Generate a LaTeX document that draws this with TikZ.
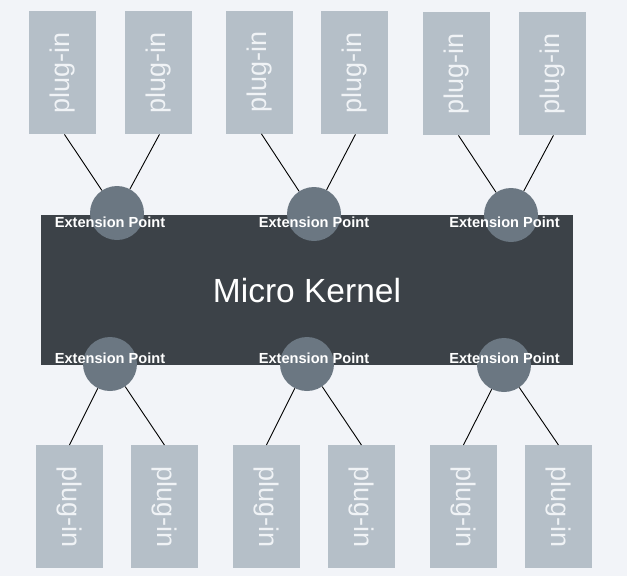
\documentclass[tikz,border=0pt]{standalone}
\usepackage{fontspec}
\setmainfont{Liberation Sans}
\definecolor{bgc}{HTML}{F2F4F8}
\definecolor{kernelc}{HTML}{3C4248}
\definecolor{epc}{HTML}{6B7782}
\definecolor{plugc}{HTML}{B5BFC8}
\definecolor{plugtxt}{HTML}{F0F3F6}
\newcommand{\plugup}{\rotatebox{90}{plug-in}}
\newcommand{\plugdown}{\rotatebox{-90}{plug-in}}
\begin{document}
\begin{tikzpicture}[x=1pt,y=-1pt,
  plugbox/.style={fill=plugc,draw=none,minimum width=66.5pt,minimum height=123pt,inner sep=0pt,
    text=plugtxt,font=\fontsize{27}{29}\selectfont,anchor=north west},
  epoint/.style={circle,fill=epc,draw=none,minimum size=54pt,inner sep=0pt},
  eplabel/.style={text=white,font=\bfseries\fontsize{14.6}{16}\selectfont,inner sep=0pt},
  link/.style={draw=black,line width=0.9pt}]
\fill[bgc] (0,0) rectangle (627,576);
\useasboundingbox (0,0) rectangle (627,576);
% kernel
\node[fill=kernelc,minimum width=532pt,minimum height=150pt,inner sep=0pt,anchor=north west] (kernel) at (41,215) {};
\node[text=white,font=\fontsize{33.5}{36}\selectfont,inner sep=0pt] (kt) at (307,291) {Micro Kernel};
% top plug-ins
\node[plugbox] (t1) at (29,11) {\plugup};
\node[plugbox] (t2) at (125,11) {\plugup};
\node[plugbox] (t3) at (226,10.5) {\plugup};
\node[plugbox] (t4) at (321,11) {\plugup};
\node[plugbox] (t5) at (423,12) {\plugup};
\node[plugbox] (t6) at (519,12) {\plugup};
% bottom plug-ins
\node[plugbox] (b1) at (36,445) {\plugdown};
\node[plugbox] (b2) at (131,445) {\plugdown};
\node[plugbox] (b3) at (233,445) {\plugdown};
\node[plugbox] (b4) at (328,445) {\plugdown};
\node[plugbox] (b5) at (430,445) {\plugdown};
\node[plugbox] (b6) at (525,445) {\plugdown};
% extension points
\node[epoint] (e1) at (117,213) {};
\node[epoint] (e2) at (314,214) {};
\node[epoint] (e3) at (511,215) {};
\node[epoint] (e4) at (110,364) {};
\node[epoint] (e5) at (307,364) {};
\node[epoint] (e6) at (504,365) {};
% labels
\node[eplabel] (l1) at (110,222) {Extension Point};
\node[eplabel] (l2) at (314,222) {Extension Point};
\node[eplabel] (l3) at (504.5,222) {Extension Point};
\node[eplabel] (l4) at (110,358) {Extension Point};
\node[eplabel] (l5) at (314,358) {Extension Point};
\node[eplabel] (l6) at (504.5,358) {Extension Point};
% links
\draw[link] ([xshift=2pt]t1.south) -- (e1);
\draw[link] ([xshift=1pt]t2.south) -- (e1);
\draw[link] ([xshift=2pt]t3.south) -- (e2);
\draw[link] ([xshift=1pt]t4.south) -- (e2);
\draw[link] ([xshift=2pt]t5.south) -- (e3);
\draw[link] ([xshift=1pt]t6.south) -- (e3);
\draw[link] (b1.north) -- (e4);
\draw[link] (b2.north) -- (e4);
\draw[link] (b3.north) -- (e5);
\draw[link] (b4.north) -- (e5);
\draw[link] (b5.north) -- (e6);
\draw[link] (b6.north) -- (e6);
\end{tikzpicture}
\end{document}
